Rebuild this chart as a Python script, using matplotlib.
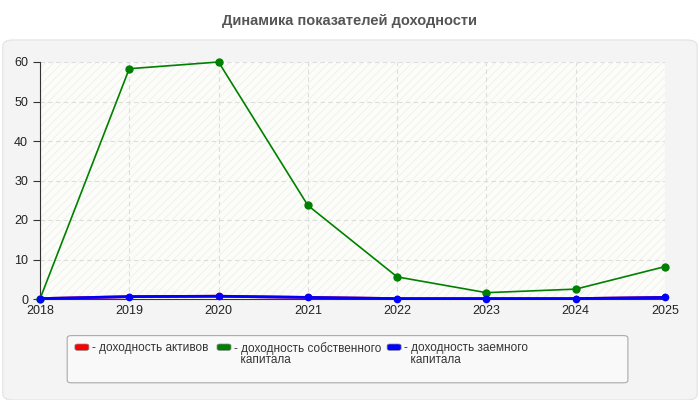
import matplotlib.pyplot as plt
from matplotlib.patches import FancyBboxPatch

plt.rcParams['font.family'] = ['Liberation Sans', 'DejaVu Sans']
plt.rcParams['hatch.color'] = '#ececec'
plt.rcParams['hatch.linewidth'] = 0.6

# Data
years = [2018, 2019, 2020, 2021, 2022, 2023, 2024, 2025]
roa = [0.1, 0.6, 0.7, 0.4, 0.1, 0.1, 0.1, 0.4]
roe = [0.0, 58.3, 60.0, 23.7, 5.6, 1.6, 2.5, 8.2]
rod = [0.1, 0.6, 0.7, 0.4, 0.1, 0.1, 0.1, 0.4]

names = ['- доходность активов', '- доходность собственного\n  капитала', '- доходность заемного\n  капитала']
colors = ['#ff0000', '#008000', '#0000ff']

fig = plt.figure(figsize=(7, 4), dpi=100)
fig.patch.set_facecolor('white')

# gray panel behind the chart
panel = FancyBboxPatch((0.004, 0.0), 0.992, 0.9, boxstyle='round,pad=0,rounding_size=0.015',
                       transform=fig.transFigure, facecolor='#f4f4f4', edgecolor='#e6e6e6', lw=1,
                       zorder=-5)
fig.patches.append(panel)

fig.text(0.5, 0.948, 'Динамика показателей доходности', ha='center', va='center',
         fontsize=10.5, fontweight='bold', color='#555555')

ax = fig.add_axes([0.0571, 0.2525, 0.8929, 0.5925])
ax.set_facecolor('#fcfdf8')
ax.patch.set_hatch('////')
ax.patch.set_edgecolor('#efefef')

ax.plot(years, roa, color=colors[0], lw=2, marker='o', ms=4.5, zorder=3)
ax.plot(years, roe, color=colors[1], lw=1.2, marker='o', ms=5, zorder=4, clip_on=False)
ax.plot(years, rod, color=colors[2], lw=2, marker='o', ms=4.5, zorder=5, clip_on=False)

ax.set_xlim(2018, 2025)
ax.set_ylim(0, 60)
ax.set_xticks(years)
ax.set_yticks([0, 10, 20, 30, 40, 50, 60])
ax.grid(True, ls=(0, (4, 3)), color='#dddddd', lw=0.8)
ax.set_axisbelow(True)
for s in ['top', 'right']:
    ax.spines[s].set_visible(False)
ax.spines['left'].set_color('#333333')
ax.spines['bottom'].set_color('#333333')
ax.tick_params(axis='y', length=5, color='#333333', labelsize=9, labelcolor='#222222')
ax.tick_params(axis='x', length=0, pad=4, labelsize=9, labelcolor='#222222')

# legend box
lbox = FancyBboxPatch((0.096, 0.043), 0.801, 0.118, boxstyle='round,pad=0,rounding_size=0.006',
                      transform=fig.transFigure, facecolor='#f9f9f9', edgecolor='#aaaaaa', lw=0.8,
                      zorder=-4)
fig.patches.append(lbox)
sw_x = [0.107, 0.31, 0.553]
for x, c, n in zip(sw_x, colors, names):
    sw = FancyBboxPatch((x, 0.124), 0.02, 0.016, boxstyle='round,pad=0,rounding_size=0.004',
                        transform=fig.transFigure, facecolor=c, edgecolor='#888888', lw=0.5,
                        zorder=-3)
    fig.patches.append(sw)
    fig.text(x + 0.024, 0.145, n, ha='left', va='top', fontsize=8.5, color='#333333', linespacing=0.95)

plt.savefig('out.png', dpi=100, facecolor=fig.get_facecolor())
